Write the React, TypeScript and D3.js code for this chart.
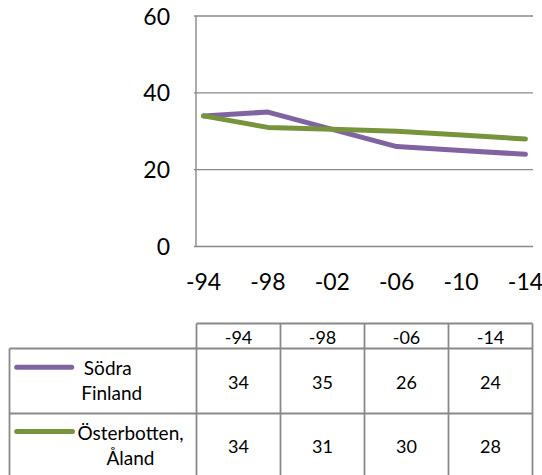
import React from "react";
import * as d3 from "d3";

const categories = ["-94", "-98", "-02", "-06", "-10", "-14"];
const sodraFinland = [34, 35, 30.5, 26, 25, 24];
const osterbotten = [34, 31, 30.5, 30, 29, 28];
const yTicks = [0, 20, 40, 60];

const tableColumns = ["-94", "-98", "-06", "-14"];
const tableSodra = [34, 35, 26, 24];
const tableOster = [34, 31, 30, 28];

const PURPLE = "#8064A2";
const GREEN = "#77933C";
const GRID = "#898989";
const FONT = "Lato, 'Open Sans', sans-serif";

export default function App() {
  const W = 542;
  const H = 475;
  const plotLeft = 196;
  const plotRight = 533;
  const x = d3.scalePoint<string>().domain(categories).range([plotLeft, plotRight]).padding(0.117);
  const y = d3.scaleLinear().domain([0, 60]).range([246.5, 16]);
  const line = d3
    .line<number>()
    .x((_, i) => x(categories[i]) as number)
    .y((d) => y(d));

  // table geometry
  const tLeft = 9.5;
  const colStart = 196.5;
  const colEnd = 532.5;
  const colX = d3.scaleBand<string>().domain(tableColumns).range([colStart, colEnd]);
  const headerTop = 323.5;
  const headerBottom = 348.5;
  const row1Bottom = 413.5;
  const row2Bottom = 478.5;

  const rows = [
    { values: tableSodra, color: PURPLE, top: headerBottom, bottom: row1Bottom, lineY: 367.3, lineX2: 71.7,
      labels: [{ t: "Södra", x: 107.8, y: 375 }, { t: "Finland", x: 111.7, y: 400 }] },
    { values: tableOster, color: GREEN, top: row1Bottom, bottom: row2Bottom, lineY: 431.5, lineX2: 72.5,
      labels: [{ t: "Österbotten,", x: 130.5, y: 440 }, { t: "Åland", x: 130.5, y: 465 }] },
  ];

  return (
    <div style={{ position: "fixed", left: 0, top: 0 }}>
      <svg width={W} height={H} style={{ display: "block", background: "#fff" }} fontFamily={FONT}>
        {/* gridlines */}
        {yTicks.map((t) => (
          <line key={"g" + t} x1={plotLeft - 2} x2={plotRight} y1={y(t)} y2={y(t)} stroke={GRID} strokeWidth={1.4} />
        ))}
        <line x1={plotLeft} x2={plotLeft} y1={y(60)} y2={y(0)} stroke={GRID} strokeWidth={1.4} />
        {/* y labels */}
        {yTicks.map((t) => (
          <text key={"yl" + t} x={170} y={y(t) + 8.5} textAnchor="end" fontSize={23} fill="#000">
            {t}
          </text>
        ))}
        {/* x labels */}
        {categories.map((c) => (
          <text key={"xl" + c} x={x(c) as number} y={290} textAnchor="middle" fontSize={23} fill="#000">
            {c}
          </text>
        ))}
        {/* series */}
        <path d={line(sodraFinland) || ""} fill="none" stroke={PURPLE} strokeWidth={5} strokeLinecap="round" strokeLinejoin="round" />
        <path d={line(osterbotten) || ""} fill="none" stroke={GREEN} strokeWidth={5} strokeLinecap="round" strokeLinejoin="round" />

        {/* data table */}
        <g stroke={GRID} strokeWidth={1.8} fill="none">
          {/* header */}
          <line x1={colStart} x2={colEnd} y1={headerTop} y2={headerTop} />
          <line x1={tLeft} x2={colEnd} y1={headerBottom} y2={headerBottom} />
          <line x1={tLeft} x2={colEnd} y1={row1Bottom} y2={row1Bottom} />
          <line x1={tLeft} x2={colEnd} y1={row2Bottom} y2={row2Bottom} />
          <line x1={tLeft} x2={tLeft} y1={headerBottom} y2={row2Bottom} />
          <line x1={colStart} x2={colStart} y1={headerTop} y2={row2Bottom} />
          {tableColumns.map((c) => (
            <line key={"cl" + c} x1={(colX(c) as number) + colX.bandwidth()} x2={(colX(c) as number) + colX.bandwidth()} y1={headerTop} y2={row2Bottom} />
          ))}
        </g>
        {tableColumns.map((c) => (
          <text key={"h" + c} x={(colX(c) as number) + colX.bandwidth() / 2} y={(headerTop + headerBottom) / 2 + 7.5} textAnchor="middle" fontSize={18} fill="#000">
            {c}
          </text>
        ))}
        {rows.map((r, ri) => (
          <g key={"r" + ri}>
            <line x1={16.7} x2={r.lineX2} y1={r.lineY} y2={r.lineY} stroke={r.color} strokeWidth={5} strokeLinecap="round" />
            {r.labels.map((l) => (
              <text key={l.t} x={l.x} y={l.y} textAnchor="middle" fontSize={19} fill="#000">
                {l.t}
              </text>
            ))}
            {r.values.map((v, i) => (
              <text key={"v" + i} x={(colX(tableColumns[i]) as number) + colX.bandwidth() / 2} y={(r.top + Math.min(r.bottom, 478) ) / 2 + 7.5} textAnchor="middle" fontSize={18} fill="#000">
                {v}
              </text>
            ))}
          </g>
        ))}
      </svg>
    </div>
  );
}
